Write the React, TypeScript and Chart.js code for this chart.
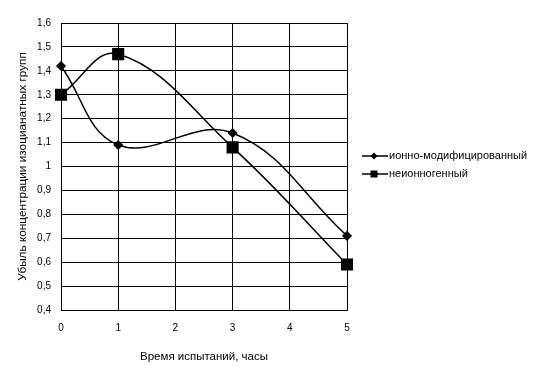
import React, { useEffect, useRef } from "react";
import { Chart, registerables } from "chart.js";

Chart.register(...registerables);

const hours = [0, 1, 3, 5];
const ionModified = [1.42, 1.09, 1.14, 0.71];
const nonIonic = [1.3, 1.47, 1.08, 0.59];
const seriesNames = ["ионно-модифицированный", "неионногенный"];
const xTitle = "Время испытаний, часы";
const yTitle = "Убыль концентрации изоцианатных групп";

const FONT = "'Liberation Sans', Arial, sans-serif";

const fmt = (v: number) => String(Math.round(v * 10) / 10).replace(".", ",");

const legendPlugin = {
  id: "customLegend",
  afterDraw(chart: any) {
    const ctx = chart.ctx;
    const items = chart.data.datasets;
    const x0 = 362;
    const y0 = 156;
    const gap = 18;
    ctx.save();
    items.forEach((ds: any, i: number) => {
      const y = y0 + i * gap;
      ctx.strokeStyle = "#000";
      ctx.lineWidth = 1.5;
      ctx.beginPath();
      ctx.moveTo(x0, y);
      ctx.lineTo(x0 + 26, y);
      ctx.stroke();
      ctx.fillStyle = "#000";
      const cx = x0 + 12;
      if (ds.pointStyle === "rectRot") {
        ctx.beginPath();
        ctx.moveTo(cx, y - 3.5);
        ctx.lineTo(cx + 3.5, y);
        ctx.lineTo(cx, y + 3.5);
        ctx.lineTo(cx - 3.5, y);
        ctx.closePath();
        ctx.fill();
      } else {
        ctx.fillRect(cx - 3.5, y - 3.5, 7, 7);
      }
      ctx.font = `11px ${FONT}`;
      ctx.textBaseline = "middle";
      ctx.textAlign = "left";
      ctx.fillText(ds.label, x0 + 27, y);
    });
    ctx.restore();
  },
};

export default function App() {
  const ref = useRef<HTMLCanvasElement>(null);
  useEffect(() => {
    if (!ref.current) return;
    const chart = new Chart(ref.current, {
      type: "line",
      data: {
        datasets: [
          {
            label: seriesNames[0],
            data: hours.map((h, i) => ({ x: h, y: ionModified[i] })),
            borderColor: "#000",
            backgroundColor: "#000",
            borderWidth: 1.5,
            pointStyle: "rectRot",
            pointRadius: 4,
            pointHoverRadius: 4,
            tension: 0.4,
            clip: false,
          },
          {
            label: seriesNames[1],
            data: hours.map((h, i) => ({ x: h, y: nonIonic[i] })),
            borderColor: "#000",
            backgroundColor: "#000",
            borderWidth: 1.5,
            pointStyle: "rect",
            pointRadius: 7.5,
            pointHoverRadius: 7.5,
            tension: 0.4,
            clip: false,
          },
        ],
      },
      options: {
        responsive: false,
        animation: false,
        events: [],
        layout: { padding: { left: 0, top: 23, right: 195, bottom: 0 } },
        plugins: {
          legend: { display: false },
          tooltip: { enabled: false },
        },
        scales: {
          x: {
            type: "linear",
            min: 0,
            max: 5,
            ticks: {
              stepSize: 1,
              color: "#000",
              font: { family: FONT, size: 10 },
              padding: 12,
              maxRotation: 0,
            },
            grid: { color: "#000", lineWidth: 1, drawTicks: false },
            border: { color: "#000", width: 1 },
            title: {
              display: true,
              text: xTitle,
              color: "#000",
              font: { family: FONT, size: 11.5 },
              padding: { top: 4, bottom: 7 },
            },
            afterFit(scale: any) {
              scale.height = 61;
            },
          },
          y: {
            type: "linear",
            min: 0.4,
            max: 1.6,
            ticks: {
              stepSize: 0.1,
              color: "#000",
              font: { family: FONT, size: 10 },
              padding: 10,
              callback: (v: any) => fmt(Number(v)),
            },
            grid: { color: "#000", lineWidth: 1, drawTicks: false },
            border: { color: "#000", width: 1 },
            title: {
              display: true,
              text: yTitle,
              color: "#000",
              font: { family: FONT, size: 11.8 },
              padding: { top: 16, bottom: 4 },
            },
            afterFit(scale: any) {
              scale.width = 61;
            },
          },
        },
      },
      plugins: [legendPlugin],
    });
    return () => chart.destroy();
  }, []);
  return (
    <div style={{ position: "fixed", left: 0, top: 0, width: 542, height: 371, background: "#fff" }}>
      <canvas ref={ref} width={542} height={371} style={{ width: 542, height: 371 }} />
    </div>
  );
}
